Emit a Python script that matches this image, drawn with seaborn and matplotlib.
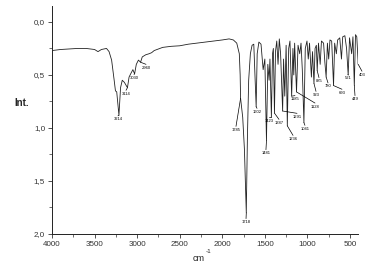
import matplotlib
matplotlib.use("Agg")
import matplotlib.pyplot as plt
import seaborn as sns
import numpy as np
import pandas as pd
from matplotlib.ticker import MultipleLocator, FuncFormatter

# Spectrum vertices (wavenumber, intensity)
spec_wn = [4000, 3900, 3800, 3700, 3600, 3500, 3460, 3420, 3360, 3330, 3300, 3270, 3255, 3240,
           3214, 3195, 3175, 3150, 3114, 3095, 3070, 3050, 3030, 3010, 2985, 2960, 2940, 2900,
           2860, 2830, 2800, 2700, 2600, 2500, 2400, 2300, 2200, 2100, 2000, 1920, 1870, 1830,
           1800, 1790, 1785, 1760, 1740, 1718, 1705, 1690, 1670, 1650, 1630, 1602, 1590, 1570,
           1545, 1520, 1500, 1481, 1465, 1450, 1440, 1423, 1410, 1400, 1387, 1375, 1360, 1345,
           1330, 1315, 1291, 1280, 1266, 1250, 1236, 1220, 1205, 1185, 1170, 1160, 1150, 1128,
           1110, 1090, 1075, 1060, 1041, 1025, 1005, 990, 975, 953, 940, 923, 910, 895, 885,
           870, 850, 835, 810, 795, 780, 765, 750, 735, 715, 693, 680, 660, 645, 620, 600, 585,
           560, 540, 521, 505, 480, 465, 449, 435, 420, 403, 400]
spec_int = [0.27, 0.26, 0.255, 0.25, 0.25, 0.26, 0.28, 0.26, 0.25, 0.28, 0.36, 0.55, 0.65, 0.66,
            0.88, 0.62, 0.55, 0.57, 0.62, 0.52, 0.48, 0.45, 0.49, 0.40, 0.36, 0.38, 0.33, 0.31,
            0.30, 0.29, 0.27, 0.24, 0.23, 0.225, 0.21, 0.20, 0.19, 0.18, 0.17, 0.16, 0.17, 0.20,
            0.30, 0.50, 0.72, 0.90, 1.20, 1.80, 1.10, 0.55, 0.30, 0.22, 0.21, 0.80, 0.30, 0.19,
            0.21, 0.45, 0.35, 1.12, 0.40, 0.55, 0.35, 0.90, 0.30, 0.25, 0.86, 0.28, 0.18, 0.40,
            0.16, 0.30, 0.84, 0.35, 0.70, 0.22, 0.98, 0.25, 0.18, 0.70, 0.25, 0.50, 0.20, 0.66,
            0.22, 0.30, 0.20, 0.45, 0.95, 0.25, 0.18, 0.35, 0.20, 0.52, 0.28, 0.58, 0.25, 0.22, 0.46,
            0.20, 0.40, 0.18, 0.20, 0.38, 0.52, 0.20, 0.35, 0.17, 0.18, 0.60, 0.20, 0.30, 0.17, 0.15, 0.35, 0.14,
            0.13, 0.25, 0.50, 0.15, 0.30, 0.14, 0.60, 0.12, 0.14, 0.40, 0.35]

# Peak labels
peak_labels = ["3214", "3114", "3030", "2960", "1785", "1718", "1602", "1481", "1423", "1387",
               "1291", "1236", "1185", "1128", "1041", "923", "885", "780", "693", "521", "449", "403"]
peak_wn = [3214, 3114, 3030, 2960, 1785, 1718, 1602, 1481, 1423, 1387,
           1291, 1236, 1185, 1128, 1041, 923, 885, 780, 693, 521, 449, 403]
peak_int = [0.88, 0.62, 0.49, 0.38, 0.72, 1.80, 0.80, 1.12, 0.90, 0.86,
            0.84, 0.98, 0.70, 0.66, 0.95, 0.58, 0.46, 0.52, 0.60, 0.50, 0.60, 0.40]
label_wn = [3225, 3131, 3037, 2896, 1839, 1721, 1592, 1487, 1451, 1334,
            1122, 1169, 1146, 911, 1029, 899, 864, 758, 594, 524, 441, 359]
label_int = [0.90, 0.66, 0.51, 0.415, 1.00, 1.87, 0.83, 1.22, 0.915, 0.934,
             0.877, 1.085, 0.71, 0.78, 0.99, 0.67, 0.54, 0.59, 0.65, 0.51, 0.71, 0.48]

x_ticks = [4000, 3500, 3000, 2500, 2000, 1500, 1000, 500]
y_ticks = [0.0, 0.5, 1.0, 1.5, 2.0]

sns.set_style("ticks")
plt.rcParams['font.family'] = ['Liberation Sans', 'DejaVu Sans']

fig = plt.figure(figsize=(3.69, 2.74), dpi=100)
ax = fig.add_axes([0.141, 0.146, 0.8305, 0.832])

df = pd.DataFrame({"wn": spec_wn, "int": spec_int})
sns.lineplot(data=df, x="wn", y="int", sort=False, estimator=None, ax=ax,
             color="#222222", linewidth=0.6)

for lab, pw, pi, lw_, li in zip(peak_labels, peak_wn, peak_int, label_wn, label_int):
    ax.plot([pw, lw_], [pi, li - 0.015], color="black", linewidth=0.5, clip_on=False)
    ax.text(lw_, li, lab, fontsize=3.0, ha="center", va="top", color="black", clip_on=False)

ax.set_xlim(4000, 400)
ax.set_ylim(2.0, -0.15)
ax.set_xticks(x_ticks)
ax.set_yticks(y_ticks)
ax.xaxis.set_minor_locator(MultipleLocator(250))
ax.yaxis.set_minor_locator(MultipleLocator(0.25))
ax.yaxis.set_major_formatter(FuncFormatter(lambda v, p: f"{v:.1f}".replace(".", ",")))
ax.tick_params(axis="both", which="major", length=3, width=0.6, labelsize=5.8,
               colors="#333333", pad=2)
ax.tick_params(axis="both", which="minor", length=2, width=0.5, colors="#333333")
ax.set_xlabel("")
ax.set_ylabel("")
sns.despine(ax=ax)
for s in ["left", "bottom"]:
    ax.spines[s].set_linewidth(0.7)
    ax.spines[s].set_color("#222222")

fig.text(0.06, 0.624, "Int.", fontsize=7, fontweight="bold", ha="center", va="center")
fig.text(0.537, 0.058, "cm", fontsize=6.5, ha="center", va="center", color="#222222")
fig.text(0.566, 0.083, "-1", fontsize=4.5, ha="center", va="center", color="#222222")

fig.savefig("out.png", dpi=100)
